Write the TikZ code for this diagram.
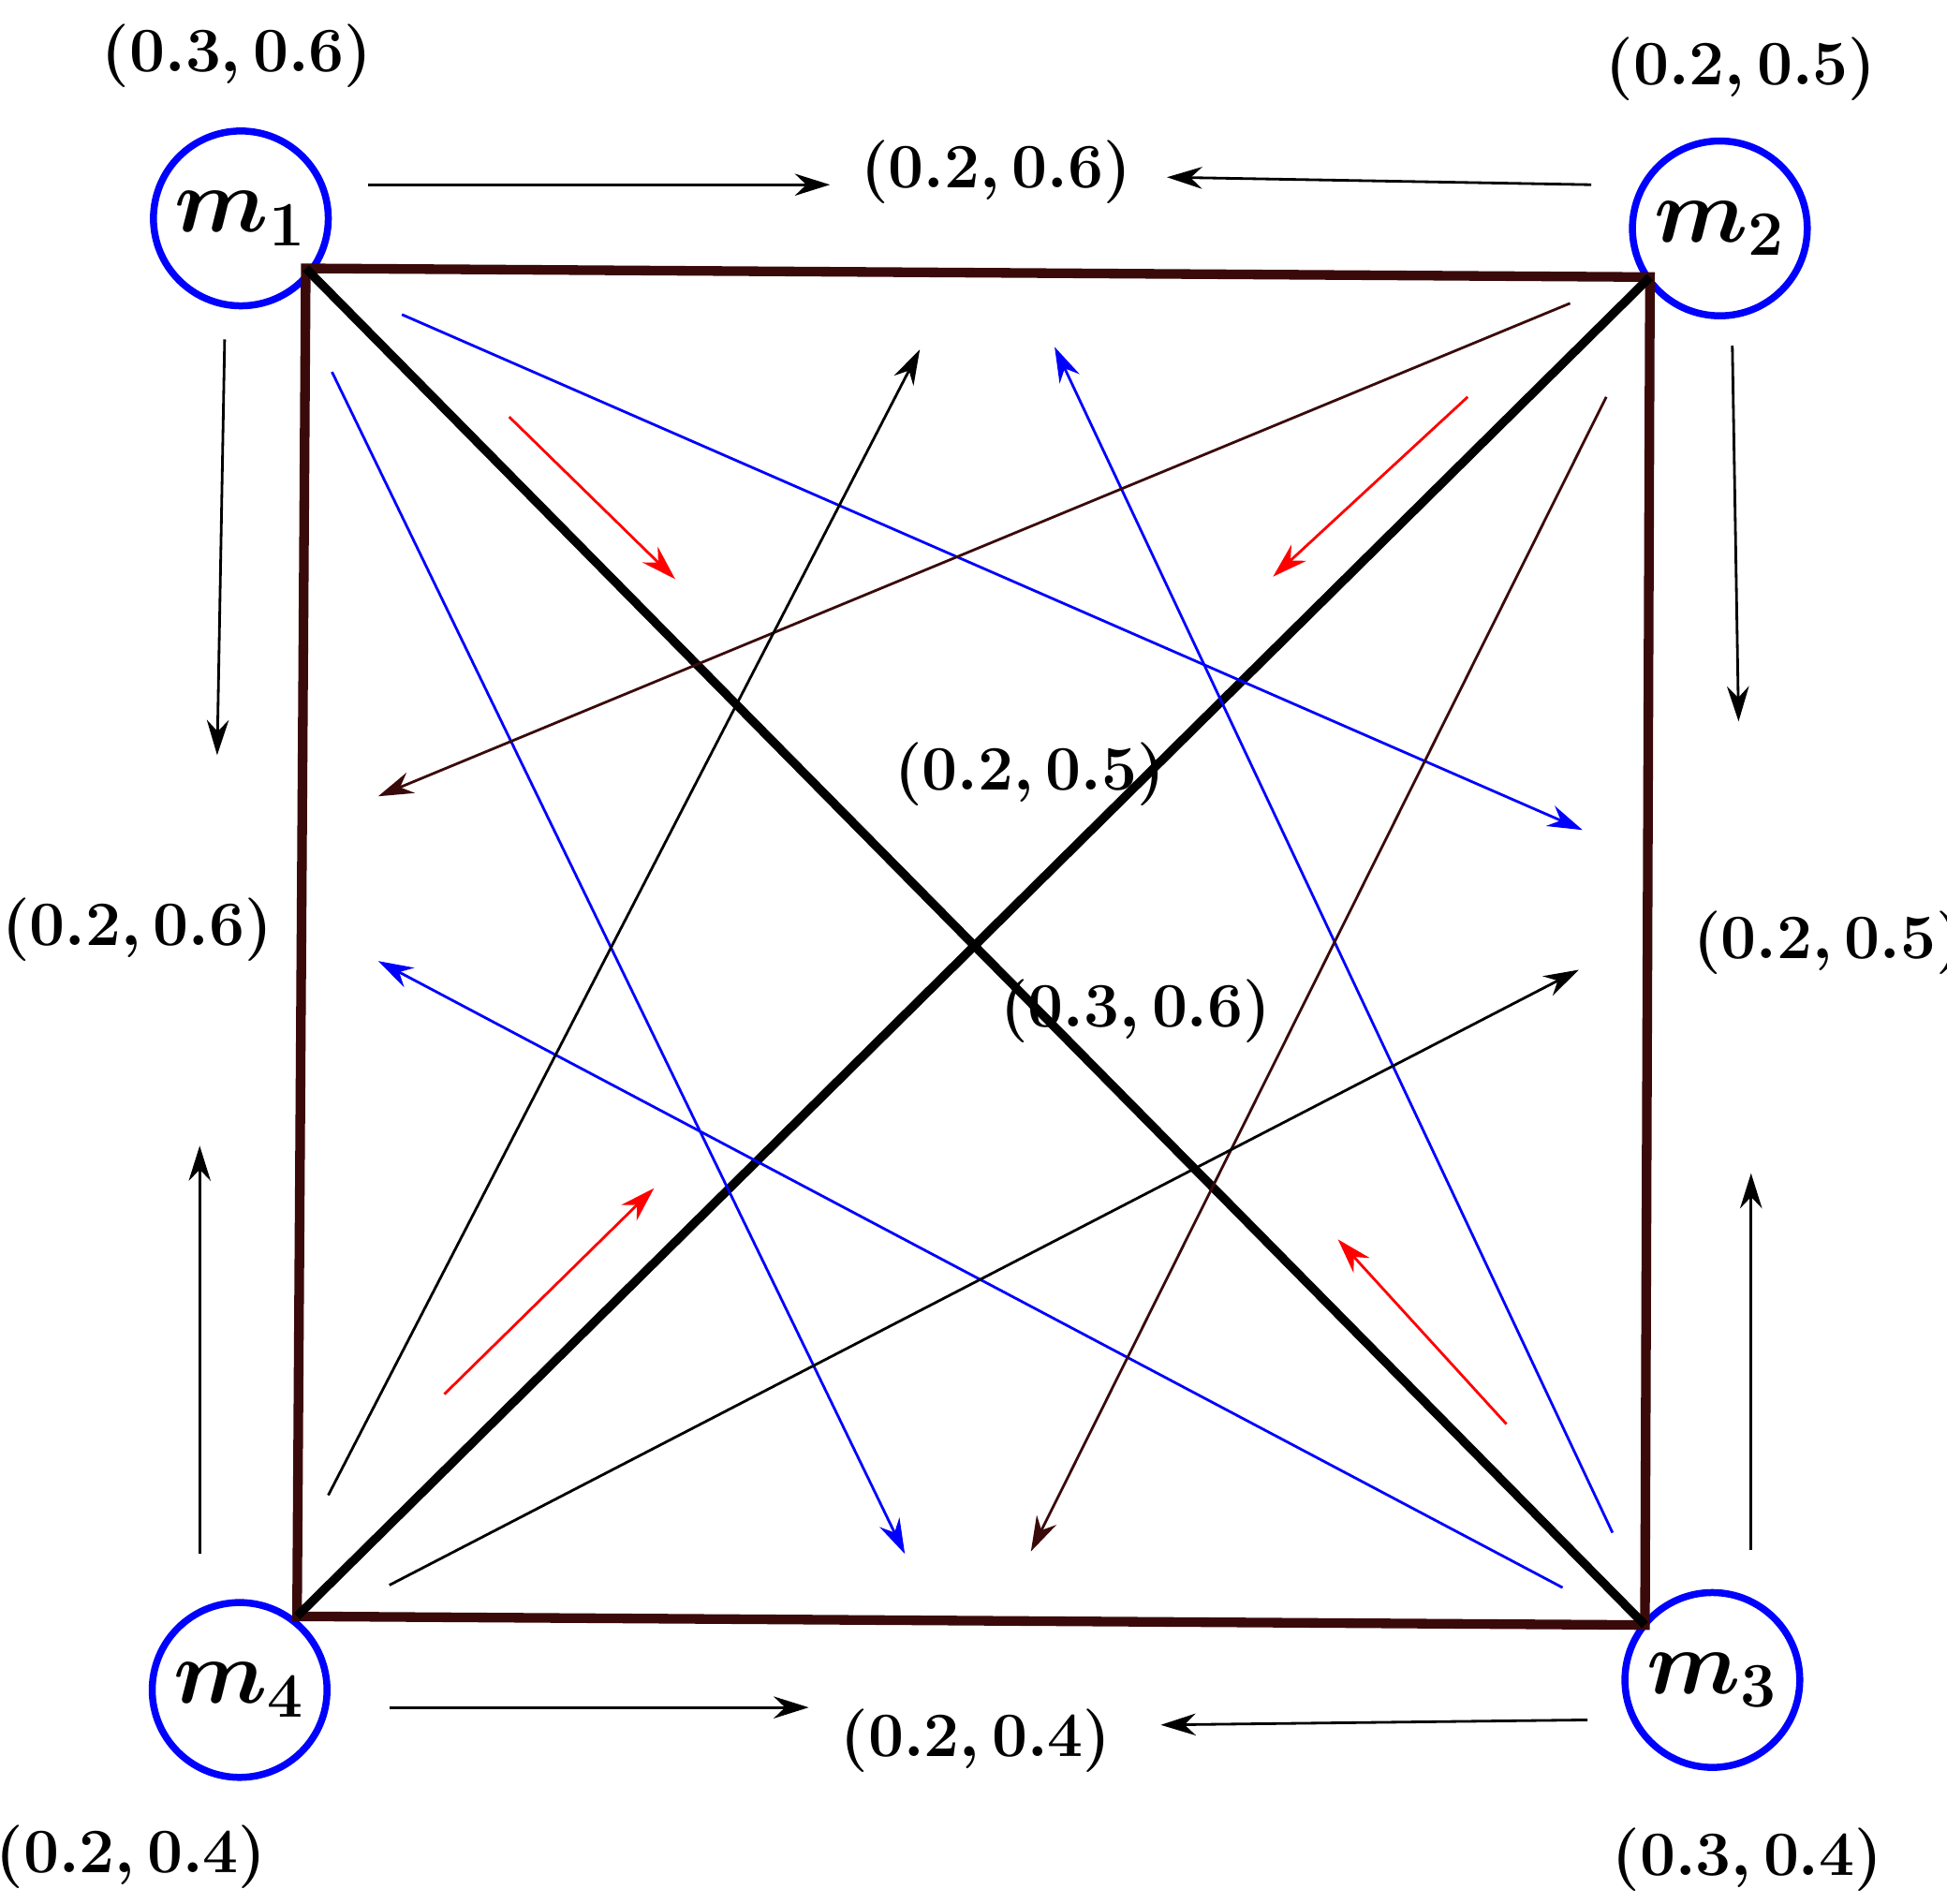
\documentclass[tikz,border=0pt]{standalone}
\usetikzlibrary{arrows.meta}
\definecolor{dbrown}{HTML}{3A0A0A}
\begin{document}
\begin{tikzpicture}[x=0.01cm,y=-0.01cm,
  mnode/.style={circle,draw=blue,line width=1.6pt,minimum size=1.4cm,inner sep=0pt,font=\fontsize{20}{22}\selectfont\boldmath},
  lab/.style={font=\fontsize{14}{16}\selectfont\boldmath},
  arr/.style={-{Stealth[length=8pt,width=5pt]},line width=0.6pt},
  side/.style={line width=2.2pt,draw=dbrown},
  diag/.style={line width=2pt,draw=black}]
\useasboundingbox (0,0) rectangle (1560,1525);
\node[mnode] (m1) at (193,175) {$m_1$};
\node[mnode] (m2) at (1378,183) {$m_2$};
\node[mnode] (m3) at (1372,1346) {$m_3$};
\node[mnode] (m4) at (192,1354) {$m_4$};
\coordinate (A) at (245,215); \coordinate (B) at (1322,222);
\coordinate (C) at (1318,1302); \coordinate (D) at (238,1295);
\draw[side] (A) -- (B) -- (C) -- (D) -- cycle;
\draw[diag] (A) -- (C); \draw[diag] (B) -- (D);
\node[lab] (l1) at (190,45) {$(0.3,0.6)$};
\node[lab] (l2) at (1395,55) {$(0.2,0.5)$};
\node[lab] (l3) at (798,138) {$(0.2,0.6)$};
\node[lab] (l4) at (110,745) {$(0.2,0.6)$};
\node[lab] (l5) at (825,620) {$(0.2,0.5)$};
\node[lab] (l6) at (910,810) {$(0.3,0.6)$};
\node[lab] (l7) at (1465,755) {$(0.2,0.5)$};
\node[lab] (l8) at (782,1395) {$(0.2,0.4)$};
\node[lab] (l9) at (105,1488) {$(0.2,0.4)$};
\node[lab] (l10) at (1400,1490) {$(0.3,0.4)$};
\coordinate (s1) at (295,148); \coordinate (e1) at (665,148);
\coordinate (s2) at (1275,148); \coordinate (e2) at (935,142);
\coordinate (s3) at (180,272); \coordinate (e3) at (174,605);
\coordinate (s4) at (160,1245); \coordinate (e4) at (160,918);
\coordinate (s5) at (1388,277); \coordinate (e5) at (1393,578);
\coordinate (s6) at (1403,1242); \coordinate (e6) at (1403,940);
\coordinate (s7) at (312,1368); \coordinate (e7) at (648,1368);
\coordinate (s8) at (1272,1378); \coordinate (e8) at (930,1382);
\foreach \i in {1,...,8}{\draw[arr] (s\i) -- (e\i);}
\coordinate (b1s) at (322,252); \coordinate (b1e) at (1268,665);
\coordinate (b2s) at (1252,1272); \coordinate (b2e) at (303,770);
\coordinate (b3s) at (266,298); \coordinate (b3e) at (725,1245);
\coordinate (b4s) at (1292,1228); \coordinate (b4e) at (845,278);
\foreach \i in {1,...,4}{\draw[arr,blue] (b\i s) -- (b\i e);}
\coordinate (d1s) at (1258,243); \coordinate (d1e) at (303,638);
\coordinate (d2s) at (1287,318); \coordinate (d2e) at (826,1243);
\foreach \i in {1,2}{\draw[arr,dbrown] (d\i s) -- (d\i e);}
\coordinate (k1s) at (263,1198); \coordinate (k1e) at (737,280);
\coordinate (k2s) at (312,1270); \coordinate (k2e) at (1265,777);
\foreach \i in {1,2}{\draw[arr] (k\i s) -- (k\i e);}
\coordinate (r1s) at (408,334); \coordinate (r1e) at (541,464);
\coordinate (r2s) at (1176,318); \coordinate (r2e) at (1020,462);
\coordinate (r3s) at (356,1117); \coordinate (r3e) at (524,952);
\coordinate (r4s) at (1207,1141); \coordinate (r4e) at (1072,993);
\foreach \i in {1,...,4}{\draw[arr,red] (r\i s) -- (r\i e);}
\end{tikzpicture}
\end{document}
